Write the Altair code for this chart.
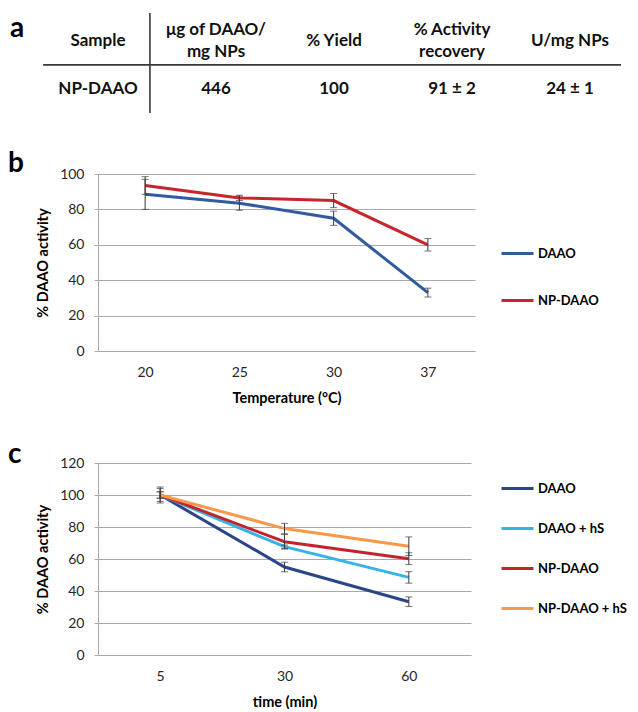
import altair as alt
import pandas as pd

# ---------------- data ----------------
table_headers = ["Sample", "μg of DAAO/\nmg NPs", "% Yield", "% Activity\nrecovery", "U/mg NPs"]
table_row = ["NP-DAAO", "446", "100", "91 ± 2", "24 ± 1"]

temperatures = ["20", "25", "30", "37"]
b_series = ["DAAO", "NP-DAAO"]
b_daao = [88.5, 83.5, 75.0, 33.0]
b_daao_err = [8.5, 4.0, 4.0, 2.5]
b_np = [93.5, 86.5, 85.0, 60.0]
b_np_err = [5.0, 1.5, 4.0, 3.5]

times = ["5", "30", "60"]
c_series = ["DAAO", "DAAO + hS", "NP-DAAO", "NP-DAAO + hS"]
c_daao = [100, 55.0, 33.3]
c_daao_err = [5.0, 3.0, 3.0]
c_daao_hs = [100, 67.7, 48.5]
c_daao_hs_err = [2.0, 1.0, 3.6]
c_np = [100, 70.8, 60.2]
c_np_err = [2.0, 4.6, 3.7]
c_np_hs = [100, 79.0, 68.0]
c_np_hs_err = [4.0, 3.3, 5.8]

# ---------------- styles ----------------
FONT = "Lato"
GRID = "#a9a9a9"
ERR = "#3a3a3a"
b_colors = ["#325a9e", "#c8242b"]
c_colors = ["#2b4589", "#36b3e6", "#c0252c", "#f7984a"]

# ---------------- panel a: table ----------------
rows = []
for i, (h, v) in enumerate(zip(table_headers, table_row)):
    parts = h.split("\n")
    if len(parts) == 1:
        rows.append({"col": i, "row": 1, "text": h, "part": "single"})
    else:
        rows.append({"col": i, "row": 1, "text": parts[0], "part": "upper"})
        rows.append({"col": i, "row": 1, "text": parts[1], "part": "lower"})
    rows.append({"col": i, "row": 0, "text": v, "part": "single"})
tdf = pd.DataFrame(rows)

tx = alt.Scale(domain=[0.0, 4.432])
ty = alt.Scale(domain=[-0.5, 1.58])

def table_text(part, dy):
    return alt.Chart(tdf).transform_filter(
        alt.datum.part == part
    ).mark_text(
        font=FONT, fontSize=17, fontWeight="bold",
        baseline="middle", align="center", color="#111111", dy=dy
    ).encode(
        x=alt.X("col:Q", scale=tx, axis=None),
        y=alt.Y("row:Q", scale=ty, axis=None),
        text="text:N",
    )

hline = alt.Chart(pd.DataFrame([{"x": -0.465, "x2": 4.432, "y": 0.5}])).mark_rule(
    color="#383838", strokeWidth=1.6
).encode(x=alt.X("x:Q", scale=tx, axis=None), x2="x2:Q", y=alt.Y("y:Q", scale=ty, axis=None))

vline = alt.Chart(pd.DataFrame([{"x": 0.44, "y": -0.5, "y2": 1.58}])).mark_rule(
    color="#383838", strokeWidth=1.6
).encode(x=alt.X("x:Q", scale=tx, axis=None), y=alt.Y("y:Q", scale=ty, axis=None), y2="y2:Q")

def letter(s, dx, offset, dy=0):
    return alt.Title(s, anchor="start", frame="group", dx=dx, dy=dy, offset=offset,
                     fontSize=28, font=FONT, fontWeight="bold", color="black",
                     baseline="alphabetic")

table = alt.layer(
    hline, vline,
    table_text("single", 0), table_text("upper", -11), table_text("lower", 11)
).properties(width=523, height=100, title=letter("a", -88, -62, -9))

# ---------------- panels b and c ----------------
def line_panel(df, cats, series, colors, xtitle, ymax, width, height, legend_y, row_pad):
    yscale = alt.Scale(domain=[0, ymax])
    yaxis = alt.Axis(title="% DAAO activity", values=list(range(0, ymax + 1, 20)),
                     tickSize=4, tickColor=GRID, gridColor=GRID, domainColor=GRID,
                     labelPadding=10, titlePadding=9)
    x = alt.X("cat:N", sort=cats, scale=alt.Scale(type="point", padding=0.5),
              axis=alt.Axis(title=xtitle, labelAngle=0, ticks=False, tickSize=0,
                            grid=False, domainColor=GRID, labelPadding=14, titlePadding=12))
    base = alt.Chart(df).transform_calculate(
        lo="datum.value - datum.err", hi="datum.value + datum.err"
    ).encode(x=x)
    lines = base.mark_line(strokeWidth=3).encode(
        y=alt.Y("value:Q", scale=yscale, axis=yaxis),
        color=alt.Color("series:N", scale=alt.Scale(domain=series, range=colors),
                        legend=alt.Legend(title=None, orient="none", legendX=402, legendY=legend_y,
                                          symbolType="stroke", symbolSize=1024,
                                          symbolStrokeWidth=3, labelFont=FONT,
                                          labelFontSize=13, labelFontWeight="bold",
                                          labelColor="black", rowPadding=row_pad,
                                          labelOffset=3, padding=0)),
        order=alt.Order("series:N"),
    )
    rules = base.mark_rule(color=ERR, strokeWidth=1).encode(
        y=alt.Y("lo:Q", scale=yscale, axis=yaxis), y2="hi:Q"
    )
    cap_lo = base.mark_tick(color=ERR, size=7, thickness=1).encode(
        y=alt.Y("lo:Q", scale=yscale, axis=yaxis))
    cap_hi = base.mark_tick(color=ERR, size=7, thickness=1).encode(
        y=alt.Y("hi:Q", scale=yscale, axis=yaxis))
    return alt.layer(lines, rules, cap_lo, cap_hi).properties(width=width, height=height)

bdf = pd.DataFrame({
    "cat": temperatures * 2,
    "series": [b_series[0]] * 4 + [b_series[1]] * 4,
    "value": b_daao + b_np,
    "err": b_daao_err + b_np_err,
})
panel_b = line_panel(bdf, temperatures, b_series, b_colors, "Temperature (°C)",
                     100, 377, 177, 62, 22)
panel_b = panel_b.properties(title=letter("b", -90, -33))

cdf = pd.DataFrame({
    "cat": times * 4,
    "series": sum([[s] * 3 for s in c_series], []),
    "value": c_daao + c_daao_hs + c_np + c_np_hs,
    "err": c_daao_err + c_daao_hs_err + c_np_err + c_np_hs_err,
})
panel_c = line_panel(cdf, times, c_series, c_colors, "time (min)",
                     120, 373, 192, 8, 15)
panel_c = panel_c.properties(title=letter("c", -90, -20, 15))

chart = alt.vconcat(table, panel_b, panel_c, spacing=36).resolve_scale(
    color="independent", x="independent", y="independent"
).resolve_legend(color="independent").properties(
    padding={"left": 0, "top": 4, "right": 0, "bottom": 0},
    background="white",
).configure_view(stroke=None).configure_axis(
    labelFont=FONT, titleFont=FONT, labelFontSize=14, titleFontSize=14.5,
    labelColor="#262626", titleColor="black", titleFontWeight="bold"
)

chart.save("out.html", embed_options={"renderer": "svg", "actions": False})
